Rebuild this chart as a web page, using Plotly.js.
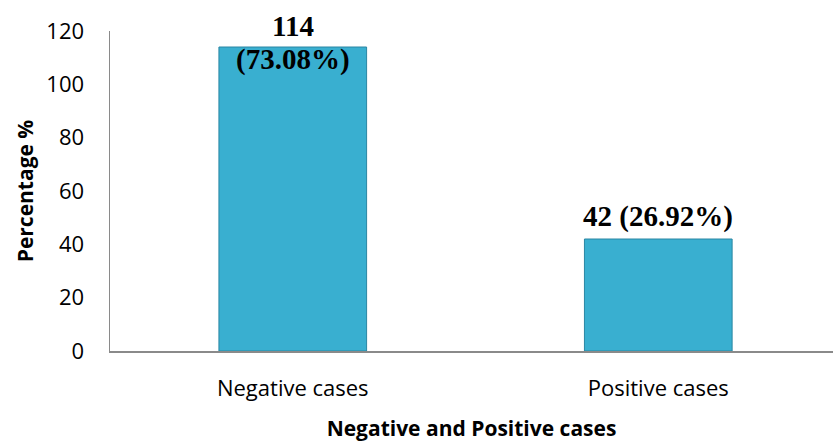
<!DOCTYPE html>
<html>
<head>
<meta charset="utf-8">
<script src="https://cdn.plot.ly/plotly-3.0.1.min.js"></script>
<style>html,body{margin:0;padding:0;background:#fff;}#chart{width:833px;height:442px;}</style>
</head>
<body>
<div id="chart"></div>
<script>
const categories = ["Negative cases", "Positive cases"];
const counts = [114, 42];
const percentLabels = ["73.08%", "26.92%"];
const yTickValues = [0, 20, 40, 60, 80, 100, 120];

const labelFont = {family: "Liberation Serif, Times New Roman, serif", size: 29, color: "#000"};

const trace = {
  type: "bar",
  x: categories,
  y: counts,
  width: 0.404,
  marker: {color: "#39AFD0", line: {color: "#2A86A3", width: 1}},
  hoverinfo: "skip"
};

function ann(x, y, text, yanchor, yshift) {
  return {x: x, y: y, xref: "x", yref: "y", text: "<b>" + text + "</b>",
          showarrow: false, yanchor: yanchor, yshift: yshift, font: labelFont};
}

const annotations = [
  // first bar: count above, percentage just inside the bar top
  ann(categories[0], counts[0], String(counts[0]), "middle", 21),
  ann(categories[0], counts[0], "(" + percentLabels[0] + ")", "middle", -12),
  // second bar: inline label above bar
  ann(categories[1], counts[1], counts[1] + " (" + percentLabels[1] + ")", "bottom", 4)
];

const layout = {
  width: 833, height: 442,
  margin: {l: 110, r: 0, t: 31, b: 91},
  paper_bgcolor: "#fff", plot_bgcolor: "#fff",
  showlegend: false,
  bargap: 0,
  xaxis: {
    range: [-0.5, 1.478],
    showgrid: false, zeroline: false,
    showline: true, linecolor: "#8a8a8a", linewidth: 1.5,
    ticks: "", ticklabelstandoff: 17,
    tickfont: {family: "Open Sans, sans-serif", size: 22, color: "#000"},
    title: {text: "<b>Negative and Positive cases</b>", standoff: 22,
            font: {family: "Open Sans, sans-serif", size: 21, color: "#000"}}
  },
  yaxis: {
    range: [0, 120],
    tickvals: yTickValues,
    showgrid: false, zeroline: false,
    showline: true, linecolor: "#8a8a8a", linewidth: 1.5,
    ticks: "", ticklabelstandoff: 20,
    tickfont: {family: "Open Sans, sans-serif", size: 22, color: "#000"},
    title: {text: "<b>Percentage %</b>", standoff: 7,
            font: {family: "Open Sans, sans-serif", size: 21, color: "#000"}}
  },
  annotations: annotations
};

Plotly.newPlot("chart", [trace], layout, {displayModeBar: false, staticPlot: true});
</script>
</body>
</html>
